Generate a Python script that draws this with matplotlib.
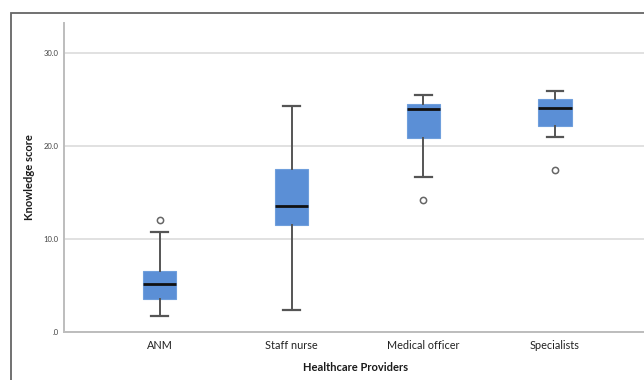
import matplotlib
matplotlib.use("Agg")
import matplotlib.pyplot as plt
from matplotlib.patches import Rectangle

# Knowledge score summary per provider group (five-number summary + outliers)
groups = ["ANM", "Staff nurse", "Medical officer", "Specialists"]
whisker_low = [1.7, 2.4, 16.7, 21.0]
quartile_1 = [3.55, 11.5, 20.9, 22.1]
medians = [5.13, 13.5, 23.95, 24.1]
quartile_3 = [6.56, 17.5, 24.5, 25.1]
whisker_high = [10.7, 24.3, 25.5, 25.95]
outliers = [[12.0], [], [14.2], [17.4]]

y_ticks = [0, 10, 20, 30]
y_tick_labels = [".0", "10.0", "20.0", "30.0"]

plt.rcParams["font.family"] = ["Lato", "DejaVu Sans"]

W, H = 644, 380
fig = plt.figure(figsize=(W / 100, H / 100), dpi=100)
fig.patch.set_facecolor("white")

# panel frame around the chart
fig.add_artist(Rectangle((11 / W, -0.05), 1.2, 1 - 12.7 / H + 0.05,
                         transform=fig.transFigure, fill=False,
                         edgecolor="#666666", linewidth=1.3))

ax = fig.add_axes([64 / W, 48 / H, 1 - 64 / W + 0.005, (332 - 22.7) / H])

stats = []
for i, name in enumerate(groups):
    stats.append(dict(label=name, whislo=whisker_low[i], q1=quartile_1[i],
                      med=medians[i], q3=quartile_3[i], whishi=whisker_high[i],
                      fliers=outliers[i]))

ax.bxp(stats, positions=range(len(groups)), widths=0.252, patch_artist=True,
       showfliers=True,
       boxprops=dict(facecolor="#5b8fd6", edgecolor="#6f9fdc", linewidth=0.8),
       medianprops=dict(color="#111111", linewidth=2.0),
       whiskerprops=dict(color="#555555", linewidth=1.4),
       capprops=dict(color="#555555", linewidth=1.6),
       capwidths=0.127,
       flierprops=dict(marker="o", markersize=4.5, markerfacecolor="white",
                       markeredgecolor="#666666", markeredgewidth=1.1),
       zorder=3)

ax.set_xlim(-0.727, 3.70)
ax.set_ylim(0, 33.26)
ax.set_yticks(y_ticks)
ax.set_yticklabels(y_tick_labels, fontsize=5.5, color="#444444")
ax.set_xticks(range(len(groups)))
ax.set_xticklabels(groups, fontsize=7.8, color="#222222")
ax.tick_params(axis="both", length=0, pad=4)
ax.tick_params(axis="x", pad=6)

ax.grid(axis="y", color="#dcdcdc", linewidth=1.2, zorder=0)
ax.set_axisbelow(True)
for side in ["top", "right"]:
    ax.spines[side].set_visible(False)
for side in ["left", "bottom"]:
    ax.spines[side].set_color("#bdbdbd")
    ax.spines[side].set_linewidth(1.4)

ax.set_ylabel("Knowledge score", fontsize=8, fontweight="bold", color="#1a1a1a", labelpad=6)
ax.set_xlabel("Healthcare Providers", fontsize=8, fontweight="bold", color="#1a1a1a", labelpad=8)

fig.savefig("out.png", dpi=100, facecolor="white")
